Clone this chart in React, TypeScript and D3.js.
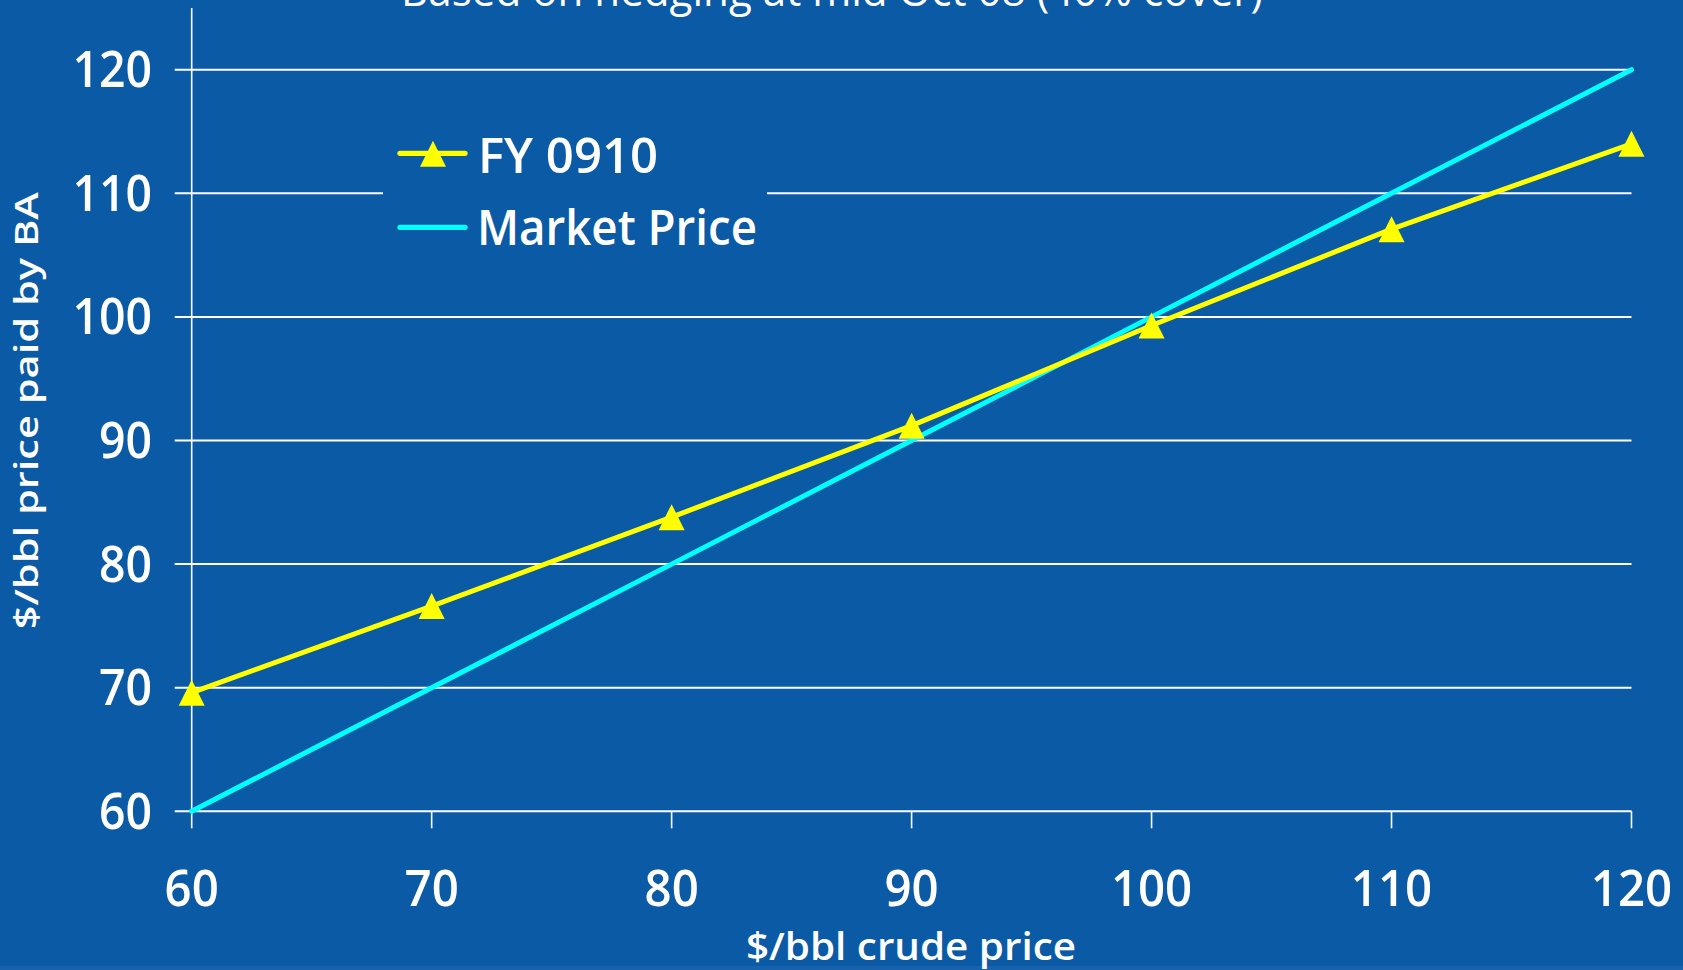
import React from "react";
import * as d3 from "d3";

// Crude price scenarios ($/bbl) and the price BA ends up paying
const crudePrices = [60, 70, 80, 90, 100, 110, 120];
const fy0910Paid = [69.6, 76.6, 83.8, 91.2, 99.3, 107.1, 114.0];
const marketPaid = [60, 70, 80, 90, 100, 110, 120];

const xTickValues = [60, 70, 80, 90, 100, 110, 120];
const yTickValues = [60, 70, 80, 90, 100, 110, 120];

const seriesNames = ["FY 0910", "Market Price"];
const titleText = "Based on hedging at mid Oct 08 (40% cover)";
const xAxisTitle = "$/bbl crude price";
const yAxisTitle = "$/bbl price paid by BA";

const W = 1683;
const H = 970;
const BG = "#0B5AA5";
const YELLOW = "#FFFF00";
const CYAN = "#00FFFF";
const FONT = "'Open Sans', 'Noto Sans', sans-serif";
const SX = 0.91; // horizontal squeeze applied to the tick label glyphs

export default function App() {
  const x = d3.scaleLinear().domain([60, 120]).range([191.7, 1631.5]);
  const y = d3.scaleLinear().domain([60, 125]).range([811.3, 7.9]);

  const line = d3
    .line<[number, number]>()
    .x((d) => x(d[0]))
    .y((d) => y(d[1]));

  const fyPts: [number, number][] = crudePrices.map((c, i) => [c, fy0910Paid[i]]);
  const mkPts: [number, number][] = crudePrices.map((c, i) => [c, marketPaid[i]]);

  const tri = (cx: number, cy: number, s: number) =>
    `M${cx},${cy - s} L${cx + s},${cy + s} L${cx - s},${cy + s} Z`;

  const x0 = x(60);
  const x1 = x(120);

  return (
    <svg
      width={W}
      height={H}
      style={{ position: "absolute", left: 0, top: 0, display: "block" }}
      fontFamily={FONT}
    >
      <rect x={0} y={0} width={W} height={H} fill={BG} />
      <rect x={0} y={966} width={W} height={4} fill="#1762AA" />

      {/* chart title, partly above the frame */}
      <text
        x={401}
        y={6}
        fill="#fff"
        fontSize={44}
        fontWeight={400}
        textLength={862}
        lengthAdjust="spacingAndGlyphs"
      >
        {titleText}
      </text>

      {/* horizontal gridlines with left ticks */}
      {yTickValues.map((v) => (
        <line
          key={"g" + v}
          x1={x0 - 17}
          x2={x1}
          y1={y(v)}
          y2={y(v)}
          stroke="#ffffff"
          strokeWidth={2}
        />
      ))}

      {/* legend box sits over the gridlines */}
      <rect x={383} y={110} width={384} height={150} fill={BG} />

      {/* y axis line */}
      <line x1={x0} x2={x0} y1={y(125)} y2={y(60)} stroke="#fff" strokeWidth={1.6} />
      {/* x axis ticks */}
      {xTickValues.map((v) => (
        <line
          key={"xt" + v}
          x1={x(v)}
          x2={x(v)}
          y1={y(60)}
          y2={y(60) + 17}
          stroke="#fff"
          strokeWidth={1.6}
        />
      ))}

      {/* y tick labels */}
      {yTickValues.map((v) => (
        <text
          key={"yl" + v}
          transform={`translate(152,${y(v) + 17.5}) scale(${SX},1)`}
          textAnchor="end"
          fill="#fff"
          fontSize={51}
          fontWeight={600}
        >
          {v}
        </text>
      ))}

      {/* x tick labels */}
      {xTickValues.map((v) => (
        <text
          key={"xl" + v}
          transform={`translate(${x(v)},906) scale(${SX + 0.02},1)`}
          textAnchor="middle"
          fill="#fff"
          fontSize={51}
          fontWeight={600}
        >
          {v}
        </text>
      ))}

      {/* axis titles */}
      <text
        x={911}
        y={959.5}
        textAnchor="middle"
        fill="#fff"
        fontSize={38}
        fontWeight={600}
        textLength={330}
        lengthAdjust="spacingAndGlyphs"
      >
        {xAxisTitle}
      </text>
      <text
        transform="translate(37.5,410.7) rotate(-90)"
        textAnchor="middle"
        fill="#fff"
        fontSize={33}
        fontWeight={600}
        textLength={437}
        lengthAdjust="spacingAndGlyphs"
      >
        {yAxisTitle}
      </text>

      {/* series */}
      <path
        d={line(mkPts) || ""}
        fill="none"
        stroke={CYAN}
        strokeWidth={5}
        strokeLinecap="round"
        strokeLinejoin="round"
      />
      <path
        d={line(fyPts) || ""}
        fill="none"
        stroke={YELLOW}
        strokeWidth={5}
        strokeLinejoin="round"
      />
      {fyPts.map((p, i) => (
        <path key={"m" + i} d={tri(x(p[0]), y(p[1]), 13)} fill={YELLOW} />
      ))}

      {/* legend */}
      <line x1={400} x2={465} y1={153.3} y2={153.3} stroke={YELLOW} strokeWidth={5.3} strokeLinecap="round" />
      <path d={tri(433, 153.7, 13)} fill={YELLOW} />
      <text
        x={478}
        y={172.7}
        fill="#fff"
        fontSize={48}
        fontWeight={600}
        textLength={180}
        lengthAdjust="spacingAndGlyphs"
      >
        {seriesNames[0]}
      </text>
      <line x1={400} x2={465} y1={227.3} y2={227.3} stroke={CYAN} strokeWidth={5.3} strokeLinecap="round" />
      <text
        x={477}
        y={245}
        fill="#fff"
        fontSize={48}
        fontWeight={600}
        textLength={280}
        lengthAdjust="spacingAndGlyphs"
      >
        {seriesNames[1]}
      </text>
    </svg>
  );
}
